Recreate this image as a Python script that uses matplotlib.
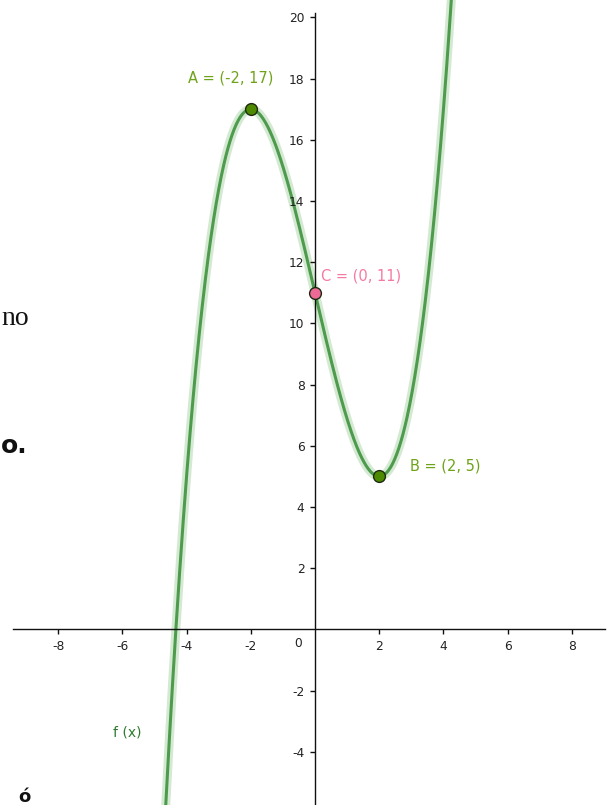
import numpy as np
import matplotlib
matplotlib.use("Agg")
import matplotlib.pyplot as plt

# f(x) = 3/8 x^3 - 9/2 x + 11, highest power first
coeffs = [0.375, 0.0, -4.5, 11.0]

# labelled points
point_names = ["A", "C", "B"]
point_x = [-2, 0, 2]
point_y = [17, 11, 5]

x_ticks = [-8, -6, -4, -2, 2, 4, 6, 8]
y_ticks = [-4, -2, 2, 4, 6, 8, 10, 12, 14, 16, 18, 20]

fig = plt.figure(figsize=(6.13, 8.05), dpi=100)
ax = fig.add_axes([0, 0, 1, 1])
ax.set_xlim(-9.81, 9.28)
ax.set_ylim(-5.74, 20.57)
ax.set_axisbelow(False)

# axes through the origin
for s in ["top", "right"]:
    ax.spines[s].set_visible(False)
ax.spines["left"].set_position(("data", 0))
ax.spines["bottom"].set_position(("data", 0))
ax.spines["bottom"].set_bounds(-9.41, 9.03)
ax.spines["left"].set_bounds(-5.8, 20.15)
for s in ["left", "bottom"]:
    ax.spines[s].set_linewidth(1.0)
    ax.spines[s].set_color("#111111")
    ax.spines[s].set_zorder(2.5)
ax.patch.set_visible(False)

ax.set_xticks(x_ticks)
ax.set_yticks(y_ticks)
ax.set_xticklabels([str(v) for v in x_ticks])
ax.set_yticklabels([str(v) for v in y_ticks])
ax.tick_params(axis="both", direction="out", length=3.5, width=1.0,
               color="#111111", labelsize=8.8, labelcolor="#222222")
ax.tick_params(axis="x", pad=4)
ax.tick_params(axis="y", pad=4)
ax.text(-0.53, -0.45, "0", fontsize=8.8, color="#222222",
        ha="center", va="center")

# the function curve with its soft highlight, drawn beneath the axes
xs = np.linspace(-5.0, 4.6, 600)
ys = np.polyval(coeffs, xs)
ax.plot(xs, ys, color="#c3e0c0", lw=6.5, alpha=0.7, solid_capstyle="round",
        zorder=1.5)
ax.plot(xs, ys, color="#3f933f", lw=2.2, alpha=0.9, zorder=2)
ax.text(-6.29, -3.38, "f (x)", fontsize=10, color="#2f7a2f",
        ha="left", va="center")

# points and their labels
fills = {"A": "#4e8a00", "B": "#4e8a00", "C": "#ee6a96"}
label_cols = {"A": "#6fa31a", "B": "#6fa31a", "C": "#f47aa2"}
label_pos = {"A": (-2.62, 18.02, "center"), "C": (0.19, 11.55, "left"),
             "B": (2.96, 5.34, "left")}
for name, px, py in zip(point_names, point_x, point_y):
    ax.plot(px, py, "o", ms=8.5, mfc=fills[name], mec="#1e2a10", mew=1.0,
            zorder=6)
    tx, ty, ha = label_pos[name]
    ax.text(tx, ty, f"{name} = ({px}, {py})", fontsize=10.5,
            color=label_cols[name], ha=ha, va="center")

# fragments of the surrounding page text at the left edge
fig.text(0.002, 0.596, "no", fontsize=20, family="Liberation Serif",
         color="#111111", ha="left", va="baseline")
fig.text(0.002, 0.437, "o.", fontsize=18, family="DejaVu Sans",
         weight="bold", color="#111111", ha="left", va="baseline")
fig.text(0.03, 0.004, "ó", fontsize=13, family="DejaVu Sans",
         weight="bold", color="#111111", ha="left", va="baseline")

fig.savefig("out.png", dpi=100)
